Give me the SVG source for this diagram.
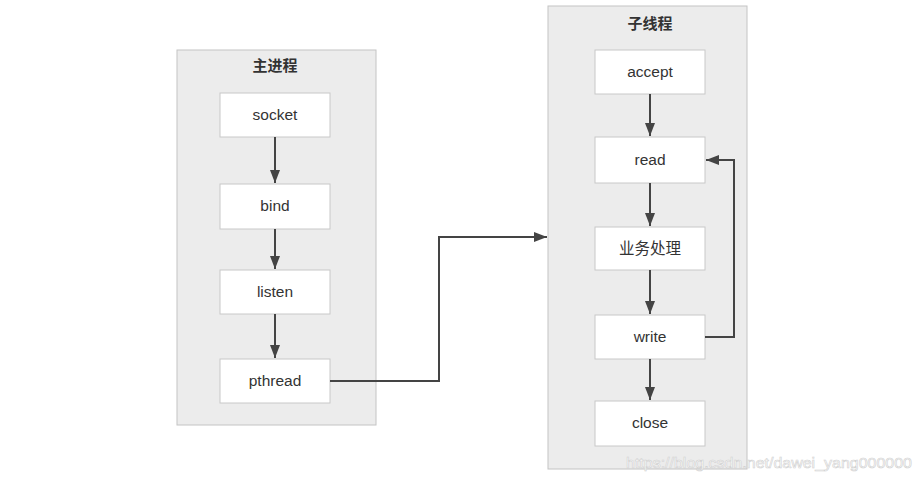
<svg xmlns="http://www.w3.org/2000/svg" width="923" height="480" viewBox="0 0 923 480">
<style>
.cont{fill:#ececec;stroke:#c4c4c4;stroke-width:1}
.box{fill:#ffffff;stroke:#c8c8c8;stroke-width:1}
.lbl{font-family:"Liberation Sans","Noto Sans CJK SC",sans-serif;font-size:15.5px;fill:#333;text-anchor:middle}
.ttl{font-family:"Noto Sans CJK SC",sans-serif;font-size:15px;font-weight:bold;fill:#333;text-anchor:middle}
.edge{fill:none;stroke:#444;stroke-width:2}
.wm{font-family:"Liberation Sans",sans-serif;font-size:15.5px;fill:#ffffff;stroke:#d0d0d0;stroke-width:0.6}
</style>
<defs>
<marker id="ah" markerWidth="14" markerHeight="12" refX="13" refY="6" orient="auto" markerUnits="userSpaceOnUse">
<path d="M0,1 L13,6 L0,11 z" fill="#444"/>
</marker>
</defs>
<rect width="923" height="480" fill="#ffffff"/>
<g id="main-process">
<rect class="cont" x="177" y="50" width="199" height="375"/>
<text class="ttl" x="275" y="71">主进程</text>
</g>
<g id="child-thread">
<rect class="cont" x="548" y="6" width="199" height="463"/>
<text class="ttl" x="650" y="29">子线程</text>
</g>
<g id="socket"><rect class="box" x="220" y="93" width="110" height="44"/><text class="lbl" x="275" y="120">socket</text></g>
<g id="bind"><rect class="box" x="220" y="184" width="110" height="45"/><text class="lbl" x="275" y="211">bind</text></g>
<g id="listen"><rect class="box" x="220" y="270" width="110" height="44"/><text class="lbl" x="275" y="297">listen</text></g>
<g id="pthread"><rect class="box" x="220" y="359" width="110" height="44"/><text class="lbl" x="275" y="386">pthread</text></g>
<g id="accept"><rect class="box" x="595" y="50" width="110" height="44"/><text class="lbl" x="650" y="77">accept</text></g>
<g id="read"><rect class="box" x="595" y="137" width="110" height="46"/><text class="lbl" x="650" y="165">read</text></g>
<g id="process"><rect class="box" x="595" y="227" width="110" height="43"/><text class="lbl" x="650" y="254">业务处理</text></g>
<g id="write"><rect class="box" x="595" y="315" width="110" height="44"/><text class="lbl" x="650" y="342">write</text></g>
<g id="close"><rect class="box" x="595" y="401" width="110" height="45"/><text class="lbl" x="650" y="428">close</text></g>
<g id="connectors">
<path class="edge" d="M275,137 V183" marker-end="url(#ah)"/>
<path class="edge" d="M275,229 V269" marker-end="url(#ah)"/>
<path class="edge" d="M275,314 V358" marker-end="url(#ah)"/>
<path class="edge" d="M330,381 H439 V237 H547" marker-end="url(#ah)"/>
<path class="edge" d="M650,94 V136" marker-end="url(#ah)"/>
<path class="edge" d="M650,183 V226" marker-end="url(#ah)"/>
<path class="edge" d="M650,270 V314" marker-end="url(#ah)"/>
<path class="edge" d="M650,359 V400" marker-end="url(#ah)"/>
<path class="edge" d="M705,337 H734 V160 H706" marker-end="url(#ah)"/>
</g>
<text class="wm" x="626" y="468" textLength="286" lengthAdjust="spacingAndGlyphs">https://blog.csdn.net/dawei_yang000000</text>
</svg>
